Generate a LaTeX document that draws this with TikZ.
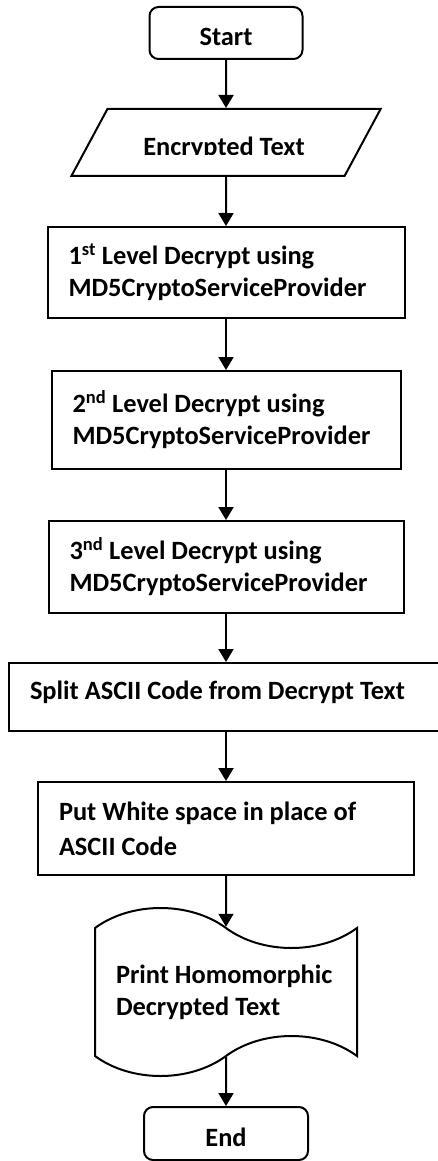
\documentclass[tikz,border=0pt]{standalone}
\usepackage{fontspec}
\setmainfont{Carlito}
\usetikzlibrary{positioning,shapes.geometric,shapes.symbols,arrows.meta}
\tikzset{
  >={Triangle[width=15pt,length=13pt]},
  every node/.style={font=\bfseries\fontsize{26.4}{32}\selectfont},
  % --- nodes
  base/.style  = {draw=black, line width=2pt, fill=white, inner sep=0pt},
  term/.style  = {base, rounded corners=9pt, minimum width=153pt, minimum height=52pt,
                  text height=25pt, text depth=0pt},
  io/.style    = {base, trapezium, trapezium left angle=50, trapezium right angle=130,
                  trapezium stretches=true, inner sep=4pt,
                  minimum width=310pt, minimum height=67pt},
  proc/.style  = {base, align=flush left, inner xsep=21pt},
  doc/.style   = {base, tape, tape bend top=out and in, tape bend bottom=in and out,
                  tape bend height=40pt, align=flush left, inner xsep=21pt,
                  text width=220pt, minimum height=168pt},
  % --- edges
  e/.style     = {->, line width=2pt, draw=black},
}
\begin{document}
\begin{tikzpicture}[x=1pt, y=-1pt]
  \useasboundingbox (0,0) rectangle (438,1161);

  \node[term] (st) at (226,33) {Start};
  \node[io] (enc) at (226,142.5) {\phantom{Encrypted Text}};
  % the label of the input box sits low and is cut off at its baseline
  \begin{scope}
    \clip (100,120) rectangle (350,155);
    \node (enctxt) at (224,148) {Encrypted Text};
  \end{scope}
  \node[proc, text width=315pt, minimum height=91pt] (l1) at (226,272.5)
    {1\textsuperscript{st} Level Decrypt using\\MD5CryptoServiceProvider};
  \node[proc, text width=307pt, minimum height=98pt] (l2) at (226,420)
    {2\textsuperscript{nd} Level Decrypt using\\MD5CryptoServiceProvider};
  \node[proc, text width=313pt, minimum height=92pt] (l3) at (226,567)
    {3\textsuperscript{nd} Level Decrypt using\\MD5CryptoServiceProvider};
  \node[proc, text width=392pt, text height=36pt, text depth=32pt] (sp) at (226,697)
    {Split ASCII Code from Decrypt Text};
  \node[proc, text width=334pt, minimum height=93pt,
        font=\bfseries\fontsize{26.4}{35}\selectfont] (ws) at (226,828.5)
    {Put White space in place of\\ASCII Code};
  \node[doc] (pr) at (226,992) {Print Homomorphic\\Decrypted Text};
  \node[term, minimum width=164pt, minimum height=53pt] (en) at (226,1133.5) {End};

  \draw[e] (st) -- (enc);
  \draw[e] (enc) -- (l1);
  \draw[e] (l1) -- (l2);
  \draw[e] (l2) -- (l3);
  \draw[e] (l3) -- (sp);
  \draw[e] (sp) -- (ws);
  \draw[e] (ws) -- (pr);
  \draw[e] (pr) -- (en);
\end{tikzpicture}
\end{document}
